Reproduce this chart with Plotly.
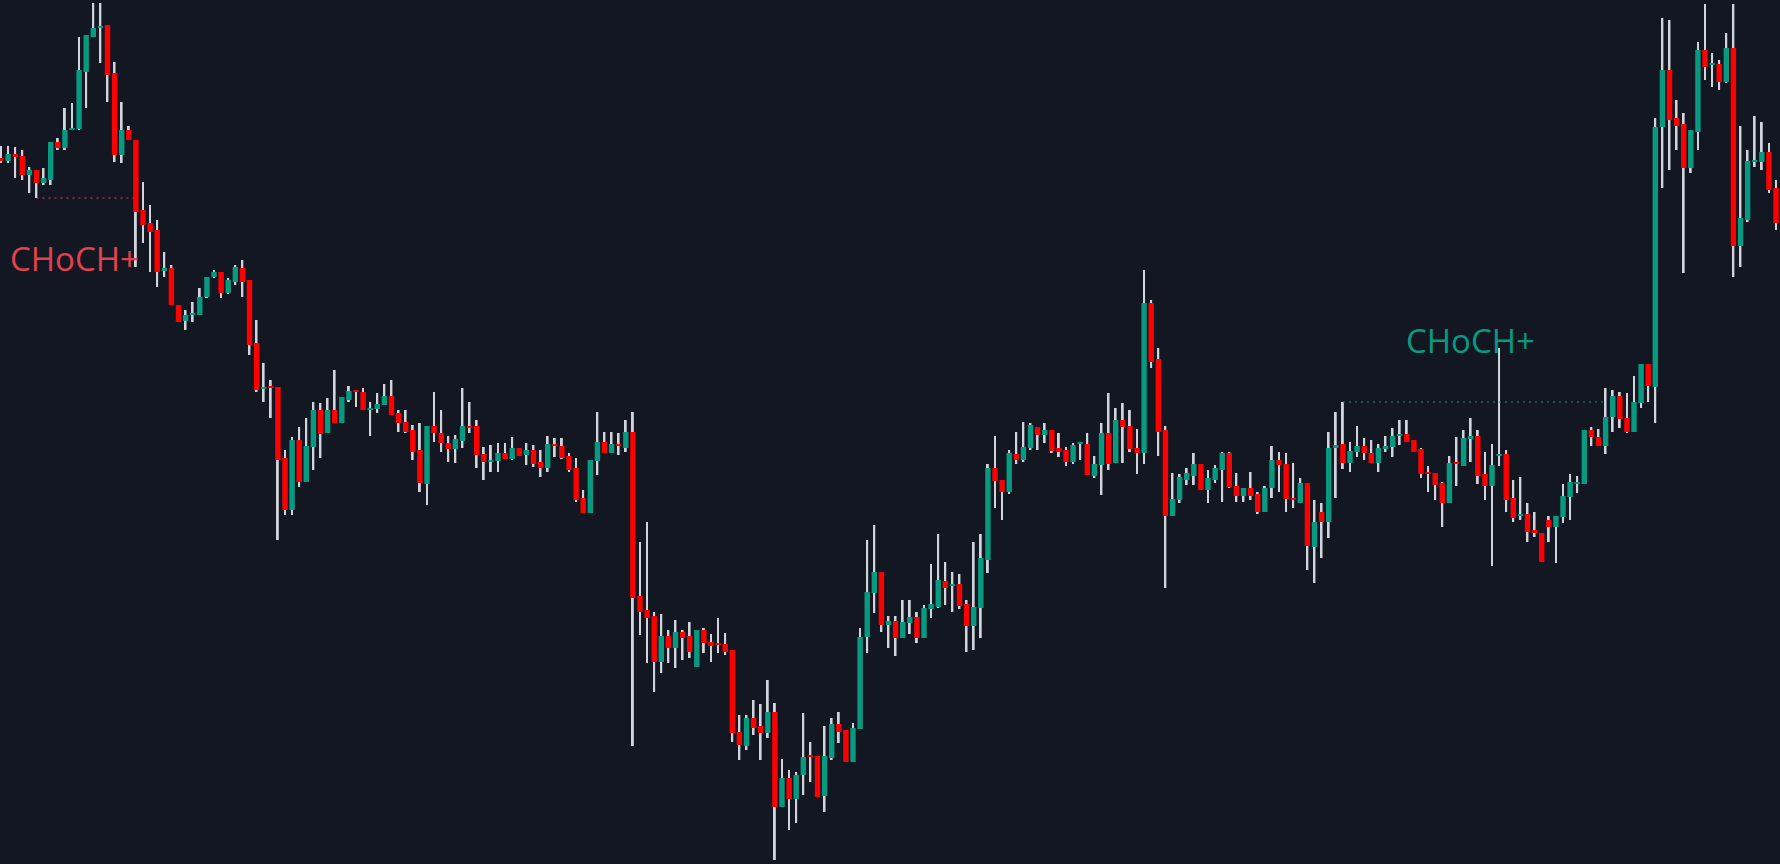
import plotly.graph_objects as go

# ---------------- data (OHLC, 251 bars) ----------------
opens = [
    742, 739, 746, 744, 725, 730, 717, 720, 758, 752,
    770, 771, 828, 863, 872, 875, 827, 745, 770, 760,
    690, 677, 670, 629, 632, 595, 579, 585, 585, 603,
    623, 628, 607, 618, 632, 620, 557, 511, 513, 513,
    442, 390, 460, 418, 453, 490, 467, 490, 477, 500,
    510, 508, 490, 491, 495, 504, 487, 478, 470, 450,
    416, 474, 467, 457, 451, 459, 474, 474, 446, 438,
    439, 447, 441, 452, 445, 450, 438, 432, 456, 454,
    444, 432, 402, 387, 439, 458, 447, 456, 452, 468,
    304, 290, 284, 238, 264, 252, 268, 264, 233, 270,
    258, 256, 256, 250, 168, 154, 182, 174, 167, 188,
    93, 122, 101, 125, 144, 144, 104, 142, 176, 170,
    138, 171, 263, 307, 328, 275, 279, 262, 277, 283,
    262, 291, 293, 319, 314, 316, 296, 274, 292, 340,
    432, 420, 408, 446, 440, 452, 473, 465, 470, 452,
    450, 438, 456, 456, 424, 435, 467, 437, 480, 474,
    452, 447, 597, 541, 470, 384, 400, 420, 424, 436,
    410, 420, 430, 447, 414, 404, 412, 406, 388, 412,
    440, 436, 402, 397, 417, 353, 388, 378, 452, 456,
    437, 448, 454, 447, 437, 451, 453, 464, 466, 460,
    451, 427, 427, 417, 397, 437, 434, 461, 464, 426,
    414, 444, 446, 402, 384, 386, 370, 367, 380, 373,
    383, 403, 416, 416, 470, 463, 454, 483, 504, 482,
    468, 497, 536, 513, 773, 830, 782, 776, 732, 768,
    850, 835, 836, 818, 852, 654, 680, 738, 738, 748, 712,
]
highs = [
    754, 754, 753, 750, 733, 730, 732, 758, 762, 792,
    797, 863, 865, 897, 897, 875, 838, 798, 774, 760,
    718, 695, 680, 648, 635, 595, 590, 598, 612, 623,
    630, 628, 622, 635, 640, 620, 580, 537, 520, 513,
    450, 463, 473, 482, 498, 497, 502, 530, 503, 514,
    510, 512, 498, 507, 516, 520, 490, 490, 475, 477,
    474, 508, 490, 464, 465, 512, 498, 480, 453, 455,
    457, 457, 463, 452, 457, 455, 450, 464, 462, 462,
    447, 442, 410, 440, 488, 468, 468, 467, 480, 488,
    358, 378, 288, 286, 270, 280, 270, 278, 270, 272,
    266, 282, 267, 250, 185, 185, 200, 196, 220, 197,
    141, 130, 128, 187, 158, 144, 174, 182, 188, 170,
    177, 272, 360, 375, 328, 284, 284, 300, 300, 288,
    295, 336, 366, 338, 328, 326, 300, 358, 366, 436,
    464, 420, 450, 468, 478, 477, 473, 477, 470, 467,
    453, 457, 458, 467, 444, 477, 507, 492, 497, 490,
    471, 630, 600, 552, 474, 427, 426, 432, 447, 436,
    430, 435, 448, 448, 427, 412, 428, 408, 414, 454,
    448, 447, 437, 422, 417, 400, 397, 468, 488, 498,
    458, 474, 462, 460, 456, 464, 472, 480, 480, 460,
    452, 434, 427, 418, 444, 463, 470, 482, 470, 448,
    456, 552, 450, 420, 423, 397, 388, 367, 384, 384,
    416, 426, 424, 470, 473, 471, 512, 510, 508, 507,
    524, 536, 536, 782, 882, 880, 800, 787, 770, 858,
    896, 847, 840, 867, 896, 774, 750, 784, 778, 757, 720,
]
lows = [
    737, 737, 722, 720, 707, 702, 715, 715, 750, 750,
    770, 770, 792, 863, 837, 798, 738, 737, 760, 633,
    657, 628, 613, 623, 595, 578, 570, 578, 585, 602,
    622, 602, 606, 615, 603, 545, 508, 498, 482, 360,
    385, 385, 413, 418, 430, 442, 467, 477, 477, 498,
    493, 490, 464, 487, 495, 485, 468, 467, 440, 408,
    395, 458, 448, 438, 437, 452, 467, 432, 420, 428,
    428, 441, 440, 444, 435, 433, 423, 428, 443, 441,
    428, 398, 387, 387, 425, 447, 447, 445, 448, 154,
    265, 237, 208, 227, 237, 232, 240, 242, 233, 247,
    238, 247, 245, 158, 140, 150, 165, 140, 162, 40,
    93, 70, 77, 105, 118, 103, 88, 140, 157, 138,
    138, 171, 247, 287, 268, 252, 244, 262, 266, 257,
    262, 282, 292, 295, 288, 291, 248, 250, 262, 327,
    392, 380, 406, 436, 438, 450, 450, 457, 447, 443,
    434, 436, 440, 425, 422, 405, 430, 437, 437, 448,
    426, 436, 532, 444, 312, 384, 397, 415, 415, 410,
    397, 417, 398, 412, 398, 398, 400, 386, 388, 402,
    408, 388, 392, 397, 330, 317, 342, 362, 402, 431,
    428, 443, 440, 437, 428, 448, 443, 455, 458, 448,
    422, 408, 400, 373, 397, 414, 434, 438, 416, 400,
    334, 434, 388, 378, 380, 358, 363, 338, 358, 337,
    377, 380, 407, 416, 454, 454, 446, 468, 472, 467,
    468, 492, 498, 477, 712, 730, 750, 627, 727, 750,
    820, 813, 810, 817, 623, 633, 678, 733, 730, 707, 670,
]
closes = [
    739, 746, 743, 725, 730, 717, 722, 758, 752, 770,
    772, 830, 865, 872, 874, 825, 745, 770, 760, 688,
    675, 668, 628, 632, 595, 578, 585, 587, 603, 623,
    628, 607, 620, 633, 618, 555, 510, 513, 512, 440,
    390, 460, 418, 454, 490, 466, 490, 477, 503, 509,
    508, 490, 492, 496, 504, 485, 477, 468, 448, 417,
    474, 467, 457, 451, 461, 474, 472, 445, 438, 440,
    447, 441, 452, 444, 450, 436, 432, 456, 454, 442,
    430, 400, 387, 440, 458, 447, 456, 454, 468, 302,
    288, 282, 238, 264, 252, 268, 262, 248, 270, 257,
    254, 255, 248, 167, 155, 182, 172, 167, 188, 93,
    122, 101, 125, 143, 143, 103, 144, 176, 168, 138,
    172, 263, 308, 328, 275, 279, 262, 278, 283, 262,
    292, 296, 320, 312, 316, 294, 274, 293, 342, 432,
    419, 408, 447, 440, 453, 475, 465, 470, 449, 448,
    438, 455, 457, 425, 436, 467, 436, 480, 473, 451,
    447, 597, 538, 468, 384, 401, 423, 427, 436, 410,
    422, 432, 447, 413, 404, 412, 404, 388, 412, 440,
    435, 401, 400, 417, 354, 378, 378, 452, 455, 437,
    449, 454, 447, 437, 452, 454, 464, 466, 458, 448,
    426, 426, 415, 397, 437, 436, 462, 464, 424, 414,
    435, 446, 400, 382, 386, 368, 367, 338, 373, 384,
    404, 418, 417, 470, 463, 454, 483, 504, 481, 468,
    498, 536, 514, 773, 830, 780, 774, 732, 770, 850,
    833, 837, 818, 852, 654, 682, 739, 740, 748, 710, 677,
]

# structure breaks: (swing bar, break bar, level kind, label)
choch_bear = {"from": 5, "to": 19, "kind": "low", "label": "CHoCH+"}
choch_bull = {"from": 189, "to": 226, "kind": "high", "label": "CHoCH+"}

# ---------------- styling ----------------
BG = "#131722"
UP = "#089981"
DN = "#ff0000"
WICK = "#d1d4dc"
LBL_RED = "#e2424e"
LBL_GRN = "#089981"

n = min(len(opens), len(highs), len(lows), len(closes))
idx = list(range(n))

fig = go.Figure()

# wicks (thin bars so that the bodies are drawn above them)
fig.add_trace(go.Bar(x=idx, y=[highs[i] - lows[i] for i in idx],
                     base=[lows[i] for i in idx], width=0.26,
                     marker=dict(color=WICK, line=dict(width=0)),
                     showlegend=False, hoverinfo="skip"))

# bodies
def bodies(cond, color):
    xs, base, h = [], [], []
    for i in idx:
        if cond(i):
            lo = min(opens[i], closes[i])
            hi = max(opens[i], closes[i])
            xs.append(i)
            base.append(lo)
            h.append(max(hi - lo, 2))
    fig.add_trace(go.Bar(x=xs, y=h, base=base, width=0.76,
                         marker=dict(color=color, line=dict(width=0)),
                         showlegend=False, hoverinfo="skip"))

bodies(lambda i: closes[i] >= opens[i], UP)
bodies(lambda i: closes[i] < opens[i], DN)

# CHoCH levels
lvl_r = lows[choch_bear["from"]]
fig.add_trace(go.Scatter(x=[choch_bear["from"], choch_bear["to"] - 0.3], y=[lvl_r, lvl_r],
                         mode="lines", line=dict(color=LBL_RED, width=1.2, dash="2px,4px"),
                         hoverinfo="skip", showlegend=False))
lvl_g = highs[choch_bull["from"]]
fig.add_trace(go.Scatter(x=[choch_bull["from"], choch_bull["to"]], y=[lvl_g, lvl_g],
                         mode="lines", line=dict(color=LBL_GRN, width=1.2, dash="2px,4px"),
                         hoverinfo="skip", showlegend=False))

fig.add_annotation(x=10.3, y=lvl_r - 60, text=choch_bear["label"], showarrow=False,
                   xanchor="center", yanchor="middle",
                   font=dict(family="Open Sans", size=33, color=LBL_RED))
fig.add_annotation(x=(choch_bull["from"] + choch_bull["to"]) / 2 - 0.6, y=lvl_g + 62,
                   text=choch_bull["label"], showarrow=False,
                   xanchor="center", yanchor="middle",
                   font=dict(family="Open Sans", size=33, color=LBL_GRN))

fig.update_layout(
    width=1780, height=864,
    margin=dict(l=0, r=0, t=0, b=0),
    paper_bgcolor=BG, plot_bgcolor=BG,
    barmode="overlay", showlegend=False,
    xaxis=dict(range=[-0.14, 250.56], visible=False, showgrid=False, zeroline=False, fixedrange=True),
    yaxis=dict(range=[36, 900], visible=False, showgrid=False, zeroline=False, fixedrange=True),
)

fig.write_html("out.html", config={"displayModeBar": False})
